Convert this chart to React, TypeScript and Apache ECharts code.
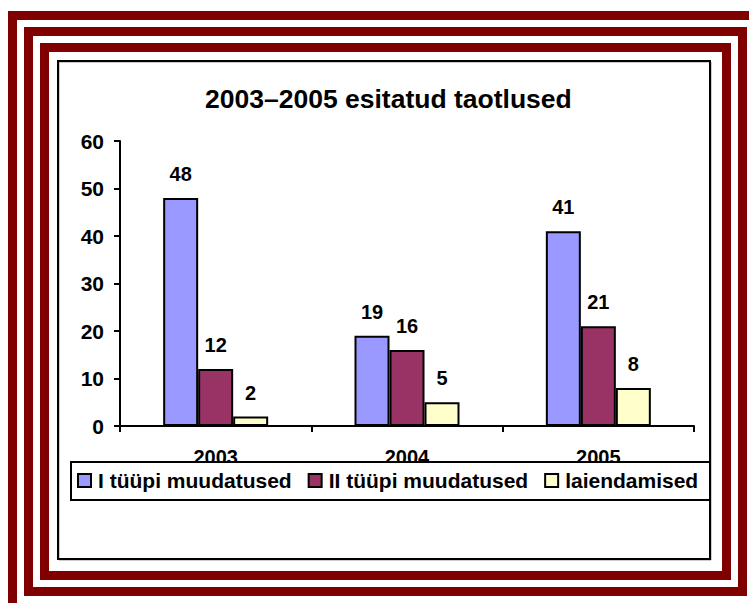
import React, { useEffect, useRef } from "react";
import * as echarts from "echarts";

const categories = ["2003", "2004", "2005"];
const seriesNames = ["I tüüpi muudatused", "II tüüpi muudatused", "laiendamised"];
const type1Values = [48, 19, 41];
const type2Values = [12, 16, 21];
const extensionValues = [2, 5, 8];
const seriesColors = ["#9999FF", "#993366", "#FFFFCC"];
const titleText = "2003–2005 esitatud taotlused";

const FONT = 'Arial, "Liberation Sans", sans-serif';
const RED = "#800000";

export default function App() {
  const ref = useRef<HTMLDivElement>(null);
  useEffect(() => {
    if (!ref.current) return;
    const chart = echarts.init(ref.current, null, { renderer: "svg" });
    const values = [type1Values, type2Values, extensionValues];
    chart.setOption({
      animation: false,
      backgroundColor: "#ffffff",
      title: {
        text: titleText,
        left: 200,
        top: 80,
        textStyle: { fontFamily: FONT, fontWeight: "bold", fontSize: 26.5, color: "#000" },
      },
      grid: { left: 120, right: 55, top: 141, bottom: 177 },
      legend: {
        left: 77,
        top: 470,
        padding: 0,
        itemGap: 16,
        itemWidth: 13,
        itemHeight: 13,
        icon: "rect",
        z: 10,
        textStyle: { fontFamily: FONT, fontWeight: "bold", fontSize: 21, color: "#000", padding: [0, 0, 0, 2] },
        data: seriesNames,
      },
      xAxis: {
        type: "category",
        data: categories,
        axisLine: { lineStyle: { color: "#000", width: 2 } },
        axisTick: { show: true, length: 6, lineStyle: { color: "#000", width: 2 } },
        axisLabel: { fontFamily: FONT, fontWeight: "bold", fontSize: 20, color: "#000", margin: 21 },
      },
      yAxis: {
        type: "value",
        min: 0,
        max: 60,
        interval: 10,
        splitLine: { show: false },
        axisLine: { show: true, lineStyle: { color: "#000", width: 2 } },
        axisTick: { show: true, length: 6, lineStyle: { color: "#000", width: 2 } },
        axisLabel: { fontFamily: FONT, fontWeight: "bold", fontSize: 21, color: "#000", margin: 16 },
      },
      series: seriesNames.map((name, i) => ({
        name,
        type: "bar",
        data: values[i],
        barWidth: 35,
        barGap: "0%",
        itemStyle: { color: seriesColors[i], borderColor: "#000", borderWidth: 2 },
        label: {
          show: true,
          position: "top",
          distance: 14,
          fontFamily: FONT,
          fontWeight: "bold",
          fontSize: 20,
          color: "#000",
        },
      })),
      graphic: [
        {
          type: "rect",
          z: 1,
          silent: true,
          shape: { x: 12.5, y: 15.5, width: 760, height: 620 },
          style: { fill: "none", stroke: RED, lineWidth: 9 },
        },
        {
          type: "rect",
          z: 1,
          silent: true,
          shape: { x: 28.5, y: 31.5, width: 714, height: 560 },
          style: { fill: "none", stroke: RED, lineWidth: 9 },
        },
        {
          type: "rect",
          z: 1,
          silent: true,
          shape: { x: 44.5, y: 47.5, width: 682, height: 528 },
          style: { fill: "none", stroke: RED, lineWidth: 9 },
        },
        {
          type: "rect",
          z: 1,
          silent: true,
          shape: { x: 59, y: 62, width: 652, height: 498 },
          style: { fill: "none", stroke: "#999", lineWidth: 1 },
        },
        {
          type: "rect",
          z: 1,
          silent: true,
          shape: { x: 58, y: 61, width: 652, height: 498 },
          style: { fill: "none", stroke: "#000", lineWidth: 2 },
        },
        {
          type: "rect",
          z: 5,
          silent: true,
          shape: { x: 71, y: 462, width: 639, height: 38 },
          style: { fill: "#fff", stroke: "#000", lineWidth: 2 },
        },
      ],
    });
    return () => chart.dispose();
  }, []);
  return (
    <div
      ref={ref}
      style={{ position: "absolute", left: 0, top: 0, width: 749, height: 603 }}
    />
  );
}
